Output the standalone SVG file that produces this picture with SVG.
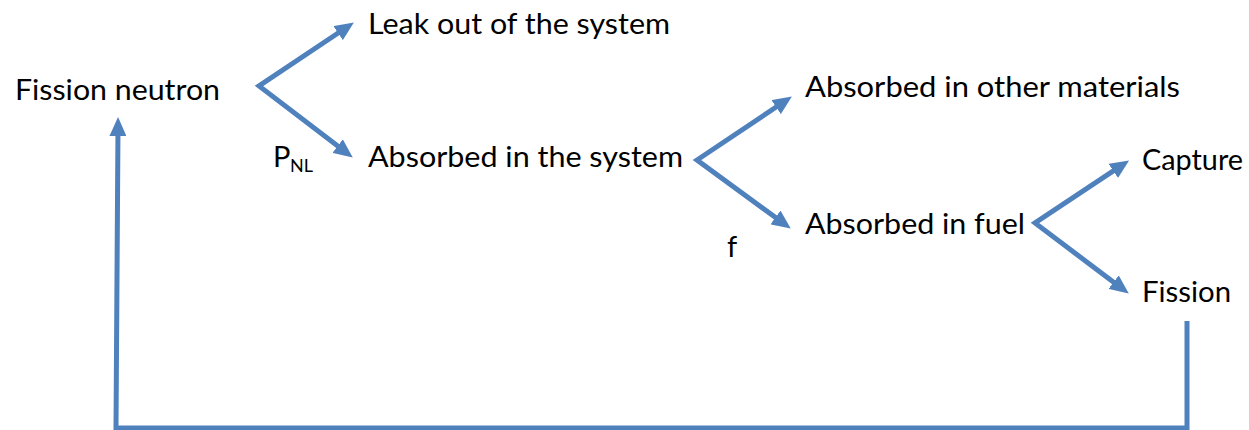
<svg xmlns="http://www.w3.org/2000/svg" width="1249" height="430" viewBox="0 0 1249 430">
<style>
.t{font-family:Lato,"Liberation Sans",Arial,sans-serif;font-size:29px;fill:#000}
.sub{font-family:Lato,"Liberation Sans",Arial,sans-serif;font-size:17px;fill:#000}
.c{fill:none;stroke:#4F81BD;stroke-width:5;stroke-linejoin:miter;stroke-miterlimit:10}
</style>
<defs>
<marker id="ah" markerUnits="userSpaceOnUse" markerWidth="19" markerHeight="17" refX="10" refY="8.5" orient="auto-start-reverse" viewBox="0 0 19 17">
<path d="M0,0 L19,8.5 L0,17 z" fill="#4F81BD"/>
</marker>
</defs>
<rect width="1249" height="430" fill="#fff"/>
<g id="connectors">
<polyline class="c" points="346.4,27.5 259,86 345.6,152.1" marker-start="url(#ah)" marker-end="url(#ah)"/>
<polyline class="c" points="784.4,101.5 697,160 783.5,223.3" marker-start="url(#ah)" marker-end="url(#ah)"/>
<polyline class="c" points="1121.6,165.4 1035,223 1121.6,288.2" marker-start="url(#ah)" marker-end="url(#ah)"/>
<path class="c" d="M1187,321 V428 H116 L118,126" marker-end="url(#ah)"/>
</g>
<g id="fission-neutron"><text class="t" x="15" y="100" textLength="205" lengthAdjust="spacingAndGlyphs">Fission neutron</text></g>
<g id="leak"><text class="t" x="368" y="34" textLength="302" lengthAdjust="spacingAndGlyphs">Leak out of the system</text></g>
<g id="absorbed-system"><text class="t" x="368" y="167" textLength="315" lengthAdjust="spacingAndGlyphs">Absorbed in the system</text></g>
<g id="absorbed-other"><text class="t" x="805" y="97" textLength="375" lengthAdjust="spacingAndGlyphs">Absorbed in other materials</text></g>
<g id="absorbed-fuel"><text class="t" x="805" y="234" textLength="220" lengthAdjust="spacingAndGlyphs">Absorbed in fuel</text></g>
<g id="capture"><text class="t" x="1142" y="170" textLength="101" lengthAdjust="spacingAndGlyphs">Capture</text></g>
<g id="fission"><text class="t" x="1142" y="302" textLength="89" lengthAdjust="spacingAndGlyphs">Fission</text></g>
<g id="label-pnl"><text class="t" x="273" y="167">P</text><text class="sub" x="290" y="172" textLength="23" lengthAdjust="spacingAndGlyphs">NL</text></g>
<g id="label-f"><text class="t" x="727" y="257">f</text></g>
</svg>
